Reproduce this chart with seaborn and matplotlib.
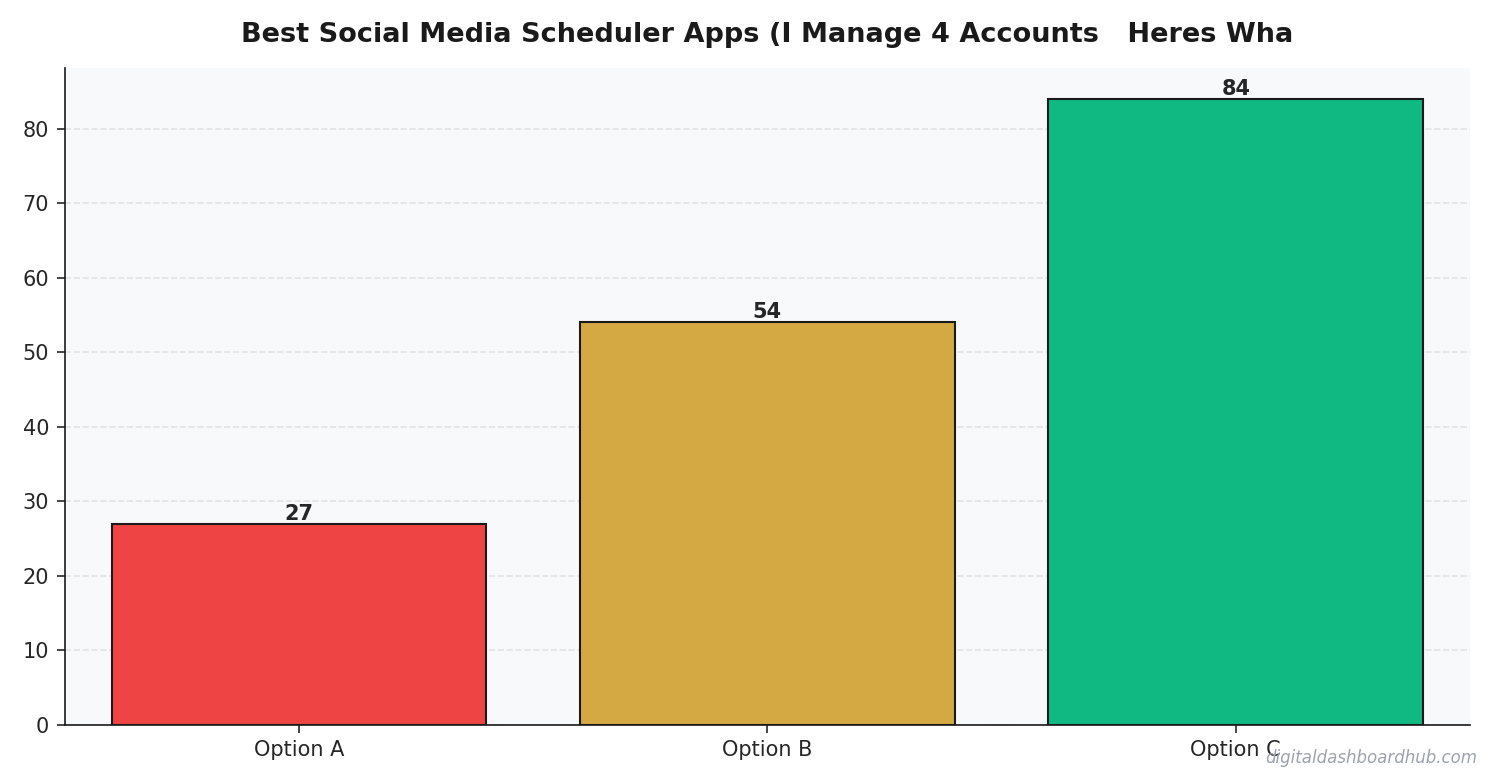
import matplotlib
matplotlib.use("Agg")
import matplotlib.pyplot as plt
import seaborn as sns
import pandas as pd

categories = ["Option A", "Option B", "Option C"]
values = [27, 54, 84]
colors = ["#EF4444", "#D4A843", "#10B981"]

df = pd.DataFrame({"option": categories, "value": values})

sns.set_style("white")
plt.rcParams['font.family'] = ['DejaVu Sans']

fig, ax = plt.subplots(figsize=(9.95, 5.22), dpi=150)
ax.set_facecolor("#F8F9FB")

sns.barplot(data=df, x="option", y="value", hue="option", palette=colors,
            legend=False, width=0.8, edgecolor="#1a1a1a", linewidth=1,
            saturation=1, ax=ax)

for i, v in enumerate(values):
    ax.text(i, v, str(v), ha="center", va="bottom", fontsize=10, weight="bold")

ax.set_title("Best Social Media Scheduler Apps (I Manage 4 Accounts   Heres Wha",
             fontsize=13, weight="bold", color="#1a1a1a", pad=12)
ax.set_xlabel("")
ax.set_ylabel("")
ax.set_ylim(0, 88.2)
ax.set_yticks(range(0, 90, 10))
ax.yaxis.grid(True, linestyle="--", color="#dddddd", alpha=0.8, linewidth=0.8)
ax.set_axisbelow(True)
ax.tick_params(axis="both", labelsize=10, left=True, bottom=True, length=4)
sns.despine(ax=ax)
ax.spines["left"].set_color("#1a1a1a")
ax.spines["bottom"].set_color("#1a1a1a")

fig.text(0.99, 0.02, "digitaldashboardhub.com", ha="right", va="bottom",
         fontsize=8, style="italic", color="#9CA3AF")

plt.tight_layout()
fig.savefig("out.png", dpi=150)
